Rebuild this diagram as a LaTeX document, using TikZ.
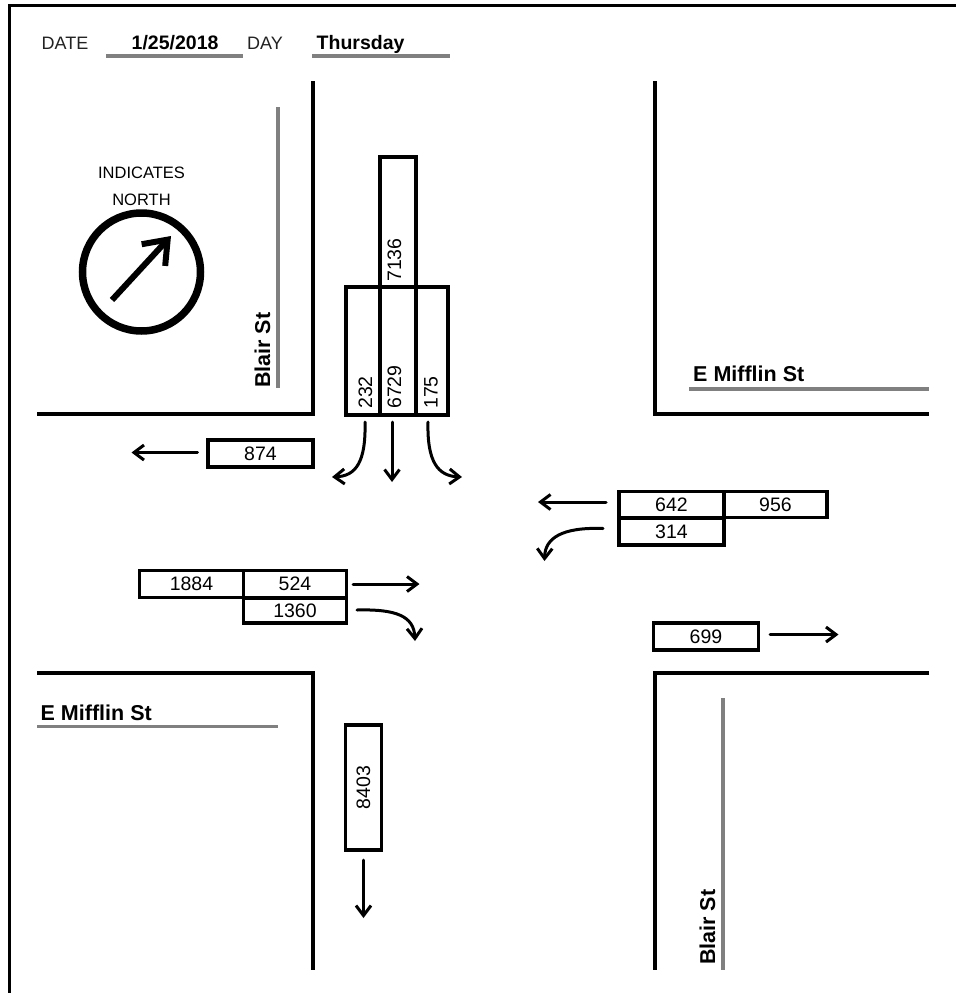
\documentclass[tikz,border=0pt]{standalone}
\usepackage{fontspec}
\setmainfont{Liberation Sans}
\usetikzlibrary{arrows.meta}
\definecolor{streetgray}{HTML}{808080}
\definecolor{labelgray}{HTML}{222222}
\begin{document}
\begin{tikzpicture}[x=1pt,y=-1pt,
  road/.style={line width=4.5pt},
  streetline/.style={line width=3.5pt, draw=streetgray},
  cbox/.style={draw, line width=3.2pt, rectangle, inner sep=0pt, font=\fontsize{19.5}{19.5}\selectfont},
  num/.style={inner sep=0pt, font=\fontsize{19.5}{19.5}\selectfont},
  vnum/.style={inner sep=0pt, rotate=90, anchor=base west, font=\fontsize{19.5}{19.5}\selectfont},
  hdr/.style={inner sep=0pt, anchor=base west, text=labelgray, font=\fontsize{18}{18}\selectfont},
  hdrval/.style={inner sep=0pt, anchor=base west, font=\fontsize{19.5}{19.5}\selectfont\bfseries},
  stname/.style={inner sep=0pt, anchor=base west, font=\fontsize{21.5}{21.5}\selectfont\bfseries},
  small/.style={inner sep=0pt, anchor=base, font=\fontsize{16.5}{16.5}\selectfont},
  arr/.style={line width=3pt, line cap=round, -{Straight Barb[length=10pt,width=15pt,line width=3pt]}},
]
\useasboundingbox (0,0) rectangle (956,993);
\fill[white] (0,0) rectangle (956,993);
% frame
\draw[line width=3pt] (9,993) -- (9,5) -- (956,5);

% header
\node[hdr] (date) at (41.5,49.5) {DATE};
\draw[streetline] (106,56) coordinate (u1a) -- (243,56) coordinate (u1b);
\node[hdrval] (dateval) at (131.5,49.5) {1/25/2018};
\node[hdr] (day) at (247,49.5) {DAY};
\draw[streetline] (312,56) coordinate (u2a) -- (450,56) coordinate (u2b);
\node[hdrval] (dayval) at (316.5,49.5) {Thursday};

% roads
\draw[road] (37,414) -- (313,414) -- (313,81);
\draw[road] (655,81) -- (655,414) -- (929,414);
\draw[road] (37,673) -- (313,673) -- (313,970);
\draw[road] (929,673) -- (655,673) -- (655,970);

% street lines and names
\draw[streetline] (278,107) -- (278,388);
\node[stname, rotate=90] (blair1) at (270,388) {Blair St};
\draw[streetline] (723,698) -- (723,970);
\node[stname, rotate=90] (blair2) at (715,965) {Blair St};
\draw[streetline] (689,389) -- (929,389);
\node[stname] (mifflin1) at (693,381.5) {E Mifflin St};
\draw[streetline] (37,726.5) -- (278,726.5);
\node[stname] (mifflin2) at (40.5,720) {E Mifflin St};

% compass
\node[small] (ind) at (141.5,178.5) {INDICATES};
\node[small] (north) at (141.5,205) {NORTH};
\draw[line width=7.5pt] (141.5,272) circle[radius=59pt];
\coordinate (ca) at (112,300);
\coordinate (cb) at (171,236);
\draw[line width=6pt, -{Straight Barb[length=21pt,width=32pt,line width=6pt]}] (ca) -- (cb);

% southbound approach (top)
\node[cbox, minimum width=34pt, minimum height=128pt] (sL) at (363,351) {};
\node[cbox, minimum width=36pt, minimum height=128pt] (sT) at (398,351) {};
\node[cbox, minimum width=32pt, minimum height=128pt] (sR) at (432,351) {};
\node[cbox, minimum width=36pt, minimum height=130pt] (sTot) at (398,222) {};
\node[vnum] (n232) at (372,409) {232};
\node[vnum] (n6729) at (401,409) {6729};
\node[vnum] (n175) at (437.5,409) {175};
\node[vnum] (n7136) at (401,282) {7136};
\coordinate (sl1) at (365,422); \coordinate (sl2) at (332,477);
\coordinate (st1) at (392,422); \coordinate (st2) at (392,482);
\coordinate (sr1) at (428,422); \coordinate (sr2) at (462,477);
\draw[arr] (sl1) .. controls (366,462) and (356,476) .. (sl2);
\draw[arr] (st1) -- (st2);
\draw[arr] (sr1) .. controls (427,462) and (438,476) .. (sr2);

% westbound exit
\node[cbox, minimum width=105pt, minimum height=27pt] (b874) at (260.5,453.5) {874};
\coordinate (w1) at (197.5,452.5); \coordinate (w2) at (131.5,452.5);
\draw[arr] (w1) -- (w2);

% eastbound approach (left)
\node[cbox, minimum width=104pt, minimum height=27.5pt] (b1884) at (191.5,584) {1884};
\node[cbox, minimum width=103pt, minimum height=27.5pt] (b524) at (295,584) {524};
\node[cbox, minimum width=103pt, minimum height=25pt] (b1360) at (295,610.5) {1360};
\coordinate (e1) at (353,584); \coordinate (e2) at (419.5,584);
\draw[arr] (e1) -- (e2);
\coordinate (er1) at (357,610); \coordinate (er2) at (415,641);
\draw[arr] (er1) .. controls (396,609) and (414,616) .. (er2);

% westbound approach (right)
\node[cbox, minimum width=105pt, minimum height=26.5pt] (b642) at (671.5,504.5) {642};
\node[cbox, minimum width=103pt, minimum height=26.5pt] (b956) at (775.5,504.5) {956};
\node[cbox, minimum width=105pt, minimum height=27pt] (b314) at (671.5,531.5) {314};
\coordinate (wl1) at (606,502); \coordinate (wl2) at (538,502);
\draw[arr] (wl1) -- (wl2);
\coordinate (wt1) at (603,528.5); \coordinate (wt2) at (544.5,561);
\draw[arr] (wt1) .. controls (562,527) and (545,538) .. (wt2);

% eastbound exit
\node[cbox, minimum width=105pt, minimum height=27pt] (b699) at (706,636.5) {699};
\coordinate (x1) at (770,634.5); \coordinate (x2) at (838.5,634.5);
\draw[arr] (x1) -- (x2);

% southbound exit
\node[cbox, minimum width=36pt, minimum height=125pt] (b8403) at (363.5,787.5) {};
\node[num, rotate=90] (n8403) at (363.5,787.5) {8403};
\coordinate (s1) at (363.5,860); \coordinate (s2) at (363.5,918);
\draw[arr] (s1) -- (s2);
\end{tikzpicture}
\end{document}
